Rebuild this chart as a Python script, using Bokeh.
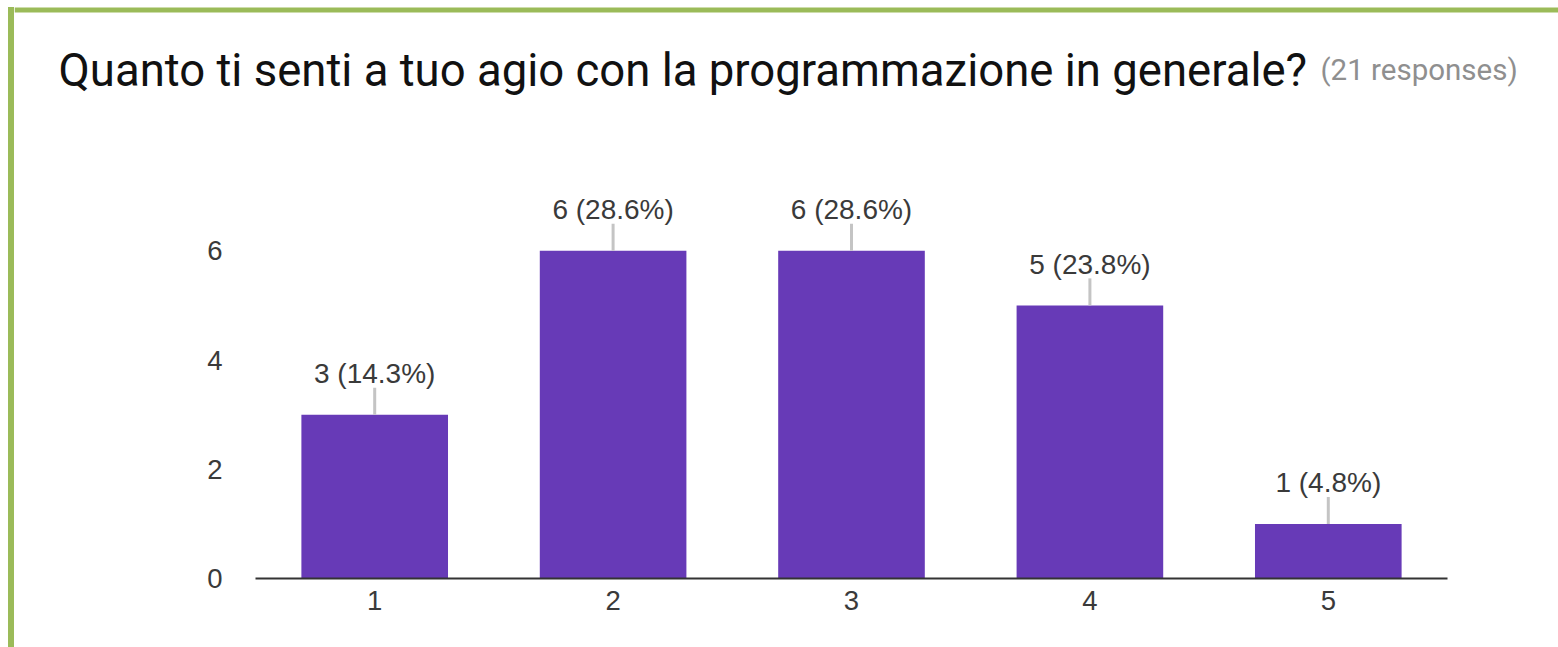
from bokeh.plotting import figure
from bokeh.layouts import column, row
from bokeh.models import Label, BoxAnnotation, FactorRange, Range1d, FixedTicker, ColumnDataSource, Spacer
from bokeh.core.properties import value
from bokeh.embed import file_html
from bokeh.resources import INLINE

# ---- data ----
categories = ["1", "2", "3", "4", "5"]
counts = [3, 6, 6, 5, 1]
total_responses = 21
y_ticks = [0, 2, 4, 6]
title_text = "Quanto ti senti a tuo agio con la programmazione in generale?"
responses_text = "(21 responses)"

labels = [f"{c} ({c / total_responses * 100:.1f}%)" for c in counts]

GREEN = "#9bbb59"
TOTAL_W, TOTAL_H = 1558, 647
PAD_W, STRIP_W, TOP_PAD = 8, 6, 7
HEADER_H = 140
INNER_W = TOTAL_W - PAD_W - STRIP_W
CHART_H = TOTAL_H - HEADER_H


def bare(fig):
    fig.outline_line_color = None
    fig.xgrid.visible = False
    fig.ygrid.visible = False
    return fig


# ---- header (title + top border) ----
header = figure(width=INNER_W, height=HEADER_H, output_backend="svg", toolbar_location=None,
                x_range=Range1d(0, INNER_W), y_range=Range1d(0, HEADER_H),
                x_axis_location=None, y_axis_location=None,
                min_border_left=0, min_border_right=0, min_border_top=0, min_border_bottom=0,
                background_fill_color="white", border_fill_color="white")
bare(header)
header.add_layout(BoxAnnotation(left=0, right=INNER_W, bottom=HEADER_H - 12, top=HEADER_H - TOP_PAD,
                                left_units="screen", right_units="screen",
                                bottom_units="screen", top_units="screen",
                                fill_color=GREEN, fill_alpha=1, line_color=None))
header.add_layout(Label(x=58 - PAD_W - STRIP_W, y=HEADER_H - 70, x_units="screen", y_units="screen",
                        text=title_text, text_font="Roboto", text_font_size="45.5px",
                        text_color="#111111", text_baseline="alphabetic"))
header.add_layout(Label(x=1320 - PAD_W - STRIP_W, y=HEADER_H - 69, x_units="screen", y_units="screen",
                        text=responses_text, text_font="Roboto", text_font_size="29.5px",
                        text_color="#8f8f8f", text_baseline="alphabetic"))

# ---- chart ----
src = ColumnDataSource(dict(x=categories, top=counts, label=labels))

p = figure(width=INNER_W, height=CHART_H, output_backend="svg", toolbar_location=None,
           x_range=FactorRange(factors=categories), y_range=Range1d(0, 8),
           min_border_left=241, min_border_right=111, min_border_top=1, min_border_bottom=69,
           background_fill_color="white", border_fill_color="white")
bare(p)

p.vbar(x="x", top="top", width=0.615, bottom=0, source=src,
       fill_color="#673ab7", line_color=None)
p.ray(x="x", y="top", length=27, length_units="screen", angle=90, angle_units="deg",
      line_color="#c4c4c4", line_width=3, source=src)
p.text(x="x", y="top", text="label", source=src, y_offset=-41,
       text_align="center", text_baseline="alphabetic",
       text_font=value("Liberation Sans"), text_font_size="28px", text_color="#3a3a3a")

ax = p.xaxis[0]
ax.axis_line_color = "#333333"
ax.axis_line_width = 2
ax.major_tick_line_color = None
ax.minor_tick_line_color = None
ax.major_tick_out = 0
ax.major_tick_in = 0
ax.major_label_standoff = 12
ax.major_label_text_font = "Liberation Sans"
ax.major_label_text_font_size = "27.5px"
ax.major_label_text_color = "#3a3a3a"

ay = p.yaxis[0]
ay.ticker = FixedTicker(ticks=y_ticks)
ay.axis_line_color = None
ay.major_tick_line_color = None
ay.minor_tick_line_color = None
ay.major_tick_out = 0
ay.major_tick_in = 0
ay.major_label_standoff = 33
ay.major_label_text_font = "Liberation Sans"
ay.major_label_text_font_size = "27.5px"
ay.major_label_text_color = "#3a3a3a"

# ---- left border of the card ----
left_border = column(Spacer(width=STRIP_W, height=TOP_PAD),
                     Spacer(width=STRIP_W, height=TOTAL_H - TOP_PAD, styles={"background-color": GREEN}),
                     spacing=0)

layout = row(Spacer(width=PAD_W, height=TOTAL_H), left_border,
             column(row(header, spacing=0), row(p, spacing=0), spacing=0), spacing=0)

open("out.html", "w").write(file_html(layout, INLINE))
